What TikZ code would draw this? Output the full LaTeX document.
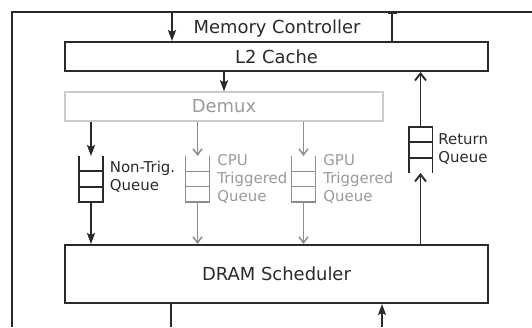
\documentclass[tikz,border=0pt]{standalone}
\usepackage{fontspec}
\setmainfont{DejaVu Sans}
\usetikzlibrary{arrows.meta,calc}
\definecolor{ink}{HTML}{2A2A2A}
\definecolor{grayline}{HTML}{8C8C8C}
\definecolor{graytext}{HTML}{9A9A9A}
\definecolor{lightbox}{HTML}{CCCCCC}
\begin{document}
\begin{tikzpicture}[x=1bp,y=-1bp,
  line width=1.9bp, ink,
  bigtext/.style={font=\fontsize{18}{21}\selectfont},
  smalltext/.style={font=\fontsize{15}{18.3}\selectfont, align=left, anchor=west, inner sep=0pt},
  blockbox/.style={draw=ink, rectangle, bigtext, text=ink, inner sep=0pt},
  demuxbox/.style={draw=lightbox, line width=1.3bp, rectangle, bigtext, text=graytext, inner sep=0pt},
  queuebox/.style={rectangle, draw=none, minimum width=22bp, minimum height=44bp, inner sep=0pt},
  blackarrow/.style={-{Stealth[length=11bp,width=8bp,inset=2bp]}},
  grayarrow/.style={draw=grayline, line width=1.5bp, -{Straight Barb[length=6bp,width=9bp]}},
  retarrow/.style={-{Straight Barb[length=7bp,width=11bp]}},
]
\useasboundingbox (0,0) rectangle (532,327);

% outer frame (Memory Controller)
\draw (532,12) -- (12,12) -- (12,327);
\node[bigtext, anchor=base, inner sep=0pt, text=ink] (mc) at (277,33) {Memory Controller};

% blocks
\node[blockbox, minimum width=423bp, minimum height=29bp] (l2) at (276.5,56.5) {L2 Cache};
\node[demuxbox, minimum width=318bp, minimum height=29bp] (dm) at (224,106.5) {Demux};
\node[blockbox, minimum width=423bp, minimum height=58bp] (dram) at (276.5,274) {DRAM Scheduler};

% queues
\node[queuebox] (nq) at (91,179) {};
\node[queuebox] (cq) at (197.5,179) {};
\node[queuebox] (gq) at (303.5,179) {};
\node[queuebox] (rq) at (420.5,150) {};

% input queues (open top)
\draw (nq.north west) -- (nq.south west) -- (nq.south east) -- (nq.north east);
\draw ($(nq.south west)!1/3!(nq.north west)$) -- ($(nq.south east)!1/3!(nq.north east)$);
\draw ($(nq.south west)!2/3!(nq.north west)$) -- ($(nq.south east)!2/3!(nq.north east)$);
\begin{scope}[draw=grayline, line width=1.5bp]
\draw (cq.north west) -- (cq.south west) -- (cq.south east) -- (cq.north east);
\draw ($(cq.south west)!1/3!(cq.north west)$) -- ($(cq.south east)!1/3!(cq.north east)$);
\draw ($(cq.south west)!2/3!(cq.north west)$) -- ($(cq.south east)!2/3!(cq.north east)$);
\draw (gq.north west) -- (gq.south west) -- (gq.south east) -- (gq.north east);
\draw ($(gq.south west)!1/3!(gq.north west)$) -- ($(gq.south east)!1/3!(gq.north east)$);
\draw ($(gq.south west)!2/3!(gq.north west)$) -- ($(gq.south east)!2/3!(gq.north east)$);
\end{scope}
% return queue (open bottom)
\draw (rq.south west) -- (rq.north west) -- (rq.north east) -- (rq.south east);
\draw ($(rq.north west)!1/3!(rq.south west)$) -- ($(rq.north east)!1/3!(rq.south east)$);
\draw ($(rq.north west)!2/3!(rq.south west)$) -- ($(rq.north east)!2/3!(rq.south east)$);

% queue labels
\node[smalltext, text=ink] (nql) at ([xshift=6bp,yshift=2.5bp]nq.east) {Non-Trig.\\Queue};
\node[smalltext, text=graytext] (cql) at ([xshift=7bp]cq.east) {CPU\\Triggered\\Queue};
\node[smalltext, text=graytext] (gql) at ([xshift=7bp]gq.east) {GPU\\Triggered\\Queue};
\node[smalltext, text=ink] (rql) at ([xshift=5bp,yshift=1bp]rq.east) {Return\\Queue};

% connectors
\coordinate (mcin) at (172,12);
\coordinate (mcout) at (392,12);
\draw[blackarrow] (mcin) -- (mcin |- l2.north);
\draw[{Bar[width=9bp]}-] (mcout) -- (mcout |- l2.north);
\draw[blackarrow] (dm.north |- l2.south) -- (dm.north);

\draw[blackarrow] (nq.north |- dm.south) -- (nq.north);
\draw[grayarrow] (cq.north |- dm.south) -- (cq.north);
\draw[grayarrow] (gq.north |- dm.south) -- (gq.north);

\draw[blackarrow] (nq.south) -- (nq.south |- dram.north);
\draw[grayarrow] (cq.south) -- (cq.south |- dram.north);
\draw[grayarrow] (gq.south) -- (gq.south |- dram.north);

\draw[retarrow] (rq.south |- dram.north) -- (rq.south);
\draw[retarrow] (rq.north) -- (rq.north |- l2.south);

\coordinate (outb) at (171,327);
\coordinate (inb) at (382,327);
\draw (outb |- dram.south) -- (outb);
\draw[blackarrow] (inb) -- (inb |- dram.south);
\end{tikzpicture}
\end{document}
